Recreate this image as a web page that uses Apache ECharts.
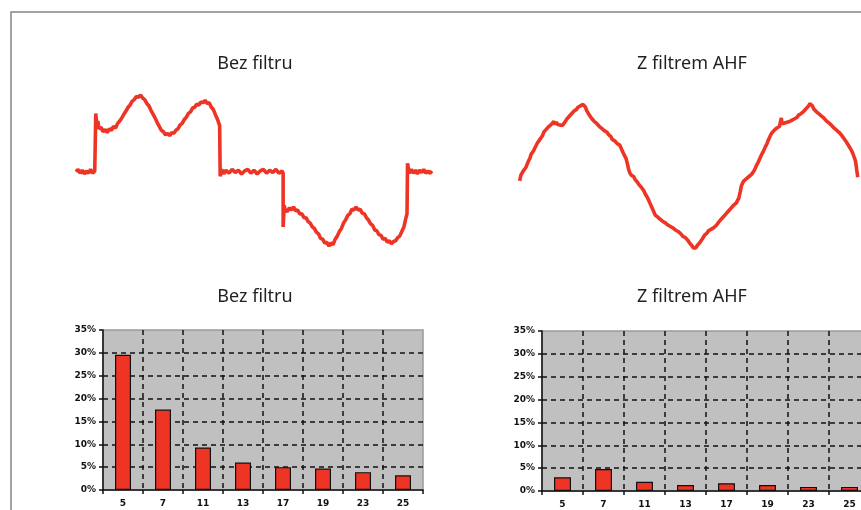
<!DOCTYPE html>
<html>
<head>
<meta charset="utf-8">
<script src="https://cdn.jsdelivr.net/npm/echarts@6/dist/echarts.min.js"></script>
<style>
  html, body { margin: 0; padding: 0; background: #fff; }
  #chart { width: 861px; height: 510px; }
</style>
</head>
<body>
<div id="chart"></div>
<script>
// titulky panelu
const titles = ['Bez filtru', 'Z filtrem AHF'];

// harmonicke (rad) a jejich podil v %
const harmonics = ['5', '7', '11', '13', '17', '19', '23', '25'];
const shareBez = [29.6, 17.6, 9.3, 6.0, 5.0, 4.7, 3.9, 3.2];
const shareAhf = [3.0, 4.8, 2.0, 1.3, 1.7, 1.3, 0.9, 0.9];

// prubeh proudu bez filtru: [uhel ve stupnich, proud v % spicky]
const waveBez = [
  [-19, 0], [-17, 3], [-15, -2], [-13, 2], [-11, -3], [-9, 1], [-7, -2], [-5, 3], [-3, -2], [-1, 1],
  [0, 2], [0, 76], [1, 62], [2, 66], [3, 56], [5, 58], [7, 52], [9, 55], [11, 51], [13, 56],
  [15, 54], [17, 59], [19, 57], [21, 63], [23, 66], [25, 70], [27, 75], [29, 79], [31, 84], [33, 87],
  [35, 92], [37, 94], [39, 98], [41, 97], [43, 100], [45, 96], [47, 94], [49, 89], [51, 86], [53, 80],
  [55, 75], [57, 70], [59, 64], [61, 59], [63, 54], [65, 52], [67, 48], [69, 50], [71, 47], [73, 51],
  [75, 50], [77, 54], [79, 56], [81, 61], [83, 63], [85, 68], [87, 71], [89, 76], [91, 78], [93, 83],
  [95, 84], [97, 88], [99, 87], [101, 91], [103, 90], [105, 93], [107, 89], [109, 90], [111, 84], [113, 81],
  [115, 74], [117, 68], [118, 64], [119, 60], [119.5, -6], [121, 3], [123, -3], [125, 2], [128, -2], [131, 3],
  [134, -1], [137, 2], [140, -3], [143, 1], [146, 3], [149, -2], [152, 2], [155, -3], [158, 1], [161, 3],
  [164, -2], [167, 2], [170, -1], [173, 3], [176, -2], [179, 1],
  [180, -2], [180, -72], [181, -44], [182, -50], [184, -52], [186, -47], [188, -50], [190, -46], [192, -51], [194, -50],
  [196, -55], [198, -55], [200, -60], [202, -60], [204, -65], [206, -67], [208, -72], [210, -74], [212, -79], [214, -81],
  [216, -87], [218, -88], [220, -93], [222, -92], [224, -97], [226, -93], [228, -95], [230, -88], [232, -84], [234, -78],
  [236, -74], [238, -67], [240, -63], [242, -57], [244, -55], [246, -49], [248, -50], [250, -46], [252, -50], [254, -49],
  [256, -54], [258, -55], [260, -60], [262, -63], [264, -68], [266, -70], [268, -76], [270, -77], [272, -82], [274, -83],
  [276, -88], [278, -87], [280, -92], [282, -90], [284, -94], [286, -91], [288, -90], [290, -86], [292, -84], [294, -78],
  [296, -72], [297, -66], [298, -60], [299, -55], [299.5, 11], [301, -2], [303, 3], [305, -2], [307, 2], [309, -3],
  [311, 2], [313, -1], [315, 3], [317, -2], [319, 1], [321, -2], [323, 1]
];

// prubeh proudu s filtrem AHF
const waveAhf = [
  [-7, -6], [-5, 2], [-3, 0], [-1, 8], [1, 6], [3, 13], [5, 15], [7, 22], [9, 25], [11, 31],
  [13, 30], [15, 36], [17, 40], [19, 42], [21, 47], [23, 46], [25, 52], [27, 54], [29, 57], [31, 62],
  [33, 62], [35, 66], [37, 68], [39, 70], [41, 69], [43, 73], [45, 74], [47, 77], [49, 73], [51, 76],
  [53, 73], [55, 75], [57, 72], [59, 74], [61, 72], [63, 74], [65, 77], [67, 80], [69, 82], [71, 84],
  [73, 86], [75, 88], [77, 89], [79, 92], [81, 93], [83, 94], [85, 97], [87, 96], [89, 99], [91, 98],
  [93, 101], [95, 99], [97, 97], [99, 92], [101, 90], [103, 86], [105, 84], [107, 81], [109, 82], [111, 77],
  [113, 78], [115, 74], [117, 74], [119, 70], [121, 71], [123, 67], [125, 68], [127, 64], [129, 63], [131, 62],
  [133, 59], [135, 58], [137, 56], [139, 52], [141, 54], [143, 50], [145, 48], [147, 46], [149, 45], [151, 44],
  [153, 40], [155, 38], [157, 32], [159, 30], [161, 25], [163, 18], [165, 10], [167, 5], [169, 2], [171, 2],
  [173, 0], [175, -4], [177, -6], [179, -8], [181, -11], [183, -13], [185, -15], [187, -17], [189, -20], [191, -24],
  [193, -27], [195, -30], [197, -34], [199, -38], [201, -42], [203, -46], [205, -50], [207, -54], [209, -56], [211, -57],
  [213, -59], [215, -60], [217, -61], [219, -63], [221, -63], [223, -65], [225, -66], [227, -68], [229, -68], [231, -70],
  [233, -71], [235, -72], [237, -74], [239, -75], [241, -76], [243, -77], [245, -79], [247, -80], [249, -82], [251, -84],
  [253, -85], [255, -86], [257, -88], [259, -90], [261, -93], [263, -95], [265, -97], [267, -100], [269, -99], [271, -100],
  [273, -97], [275, -96], [277, -93], [279, -91], [281, -88], [283, -86], [285, -82], [287, -80], [289, -79], [291, -76],
  [293, -76], [295, -74], [297, -72], [299, -72], [301, -70], [303, -69], [305, -67], [307, -64], [309, -62], [311, -60],
  [313, -58], [315, -56], [317, -54], [319, -52], [321, -50], [323, -48], [325, -46], [327, -44], [329, -42], [331, -40],
  [333, -38], [335, -37], [337, -35], [339, -30], [341, -22], [343, -13], [345, -9], [347, -6], [349, -8], [351, -3],
  [353, -2], [355, 0], [357, 1], [359, 3], [361, 4], [363, 8], [365, 12], [367, 16], [369, 19], [371, 23],
  [373, 27], [375, 31], [377, 34], [379, 38], [381, 42], [383, 45], [385, 50], [387, 54], [389, 58], [391, 61],
  [393, 62], [395, 65], [397, 66], [399, 68], [401, 68], [403, 70], [405, 72], [406, 82], [407, 74], [409, 74],
  [411, 75], [413, 74], [415, 76], [417, 75], [419, 77], [421, 77], [423, 79], [425, 80], [427, 81], [429, 83],
  [431, 83], [433, 86], [435, 87], [437, 88], [439, 90], [441, 91], [443, 93], [445, 95], [447, 97], [449, 99],
  [451, 102], [453, 100], [455, 99], [457, 95], [459, 94], [461, 91], [463, 90], [465, 88], [467, 86], [469, 85],
  [471, 83], [473, 82], [475, 80], [477, 78], [479, 77], [481, 75], [483, 74], [485, 72], [487, 71], [489, 68],
  [491, 67], [493, 65], [495, 64], [497, 62], [499, 60], [501, 58], [503, 56], [505, 53], [507, 51], [509, 48],
  [511, 45], [513, 42], [515, 39], [517, 36], [519, 32], [521, 27], [523, 22], [524, 16], [525, 9], [526, 3],
  [526.5, -1]
];

const red = '#ee3424';
const ink = '#111';
const titleStyle = { fontFamily: 'Noto Sans', fontSize: 18, fontWeight: 'normal', color: '#231f20' };
const tickFont = { fontFamily: 'DejaVu Sans', fontSize: 9, fontWeight: 'bold', color: ink };
const dash = { type: [5, 4], color: ink, width: 1.5 };

function hiddenAxis(grid, min, max) {
  return { gridIndex: grid, type: 'value', min: min, max: max, show: false };
}

function barX(grid) {
  return {
    gridIndex: grid, type: 'category', data: harmonics, boundaryGap: true,
    axisLine: { show: true, lineStyle: { color: ink, width: 1.5 } },
    axisTick: { show: true, interval: 0, length: 4, lineStyle: { color: ink, width: 1.5 } },
    axisLabel: Object.assign({ interval: 0, margin: 9 }, tickFont),
    splitLine: { show: true, interval: 0, showMinLine: false, showMaxLine: false, lineStyle: dash }
  };
}

function barY(grid) {
  return {
    gridIndex: grid, type: 'value', min: 0, max: 35, interval: 5,
    axisLine: { show: true, lineStyle: { color: ink, width: 1.5 } },
    axisTick: { show: true, length: 4, lineStyle: { color: ink, width: 1.5 } },
    axisLabel: Object.assign({ margin: 7, formatter: '{value}%' }, tickFont),
    splitLine: { show: true, showMinLine: false, showMaxLine: false, lineStyle: dash }
  };
}

const gridBar = { show: true, backgroundColor: '#c0c0c0', borderColor: '#9a9a9a', borderWidth: 1.5, outerBoundsMode: 'none' };

const chart = echarts.init(document.getElementById('chart'), null, { renderer: 'canvas' });

const option = {
  backgroundColor: '#fff',
  animation: false,
  title: [
    { text: titles[0], left: 255, top: 55, textAlign: 'center', padding: 0, textStyle: titleStyle },
    { text: titles[1], left: 692, top: 55, textAlign: 'center', padding: 0, textStyle: titleStyle },
    { text: titles[0], left: 255, top: 288, textAlign: 'center', padding: 0, textStyle: titleStyle },
    { text: titles[1], left: 692, top: 288, textAlign: 'center', padding: 0, textStyle: titleStyle }
  ],
  grid: [
    { left: 76, top: 95, width: 356, height: 153.4, outerBoundsMode: 'none' },
    { left: 519, top: 98, width: 339, height: 157, outerBoundsMode: 'none' },
    Object.assign({ left: 103, top: 330, width: 320, height: 160 }, gridBar),
    Object.assign({ left: 542, top: 331, width: 328, height: 160 }, gridBar)
  ],
  xAxis: [hiddenAxis(0, -19, 323), hiddenAxis(1, -8, 527), barX(2), barX(3)],
  yAxis: [hiddenAxis(0, -100, 100), hiddenAxis(1, -110, 110), barY(2), barY(3)],
  graphic: [{
    type: 'rect', silent: true, z: -1,
    shape: { x: 11, y: 12, width: 1000, height: 1000 },
    style: { fill: 'none', stroke: '#858585', lineWidth: 1.5 }
  }],
  series: [
    { type: 'line', xAxisIndex: 0, yAxisIndex: 0, data: waveBez, showSymbol: false,
      lineStyle: { color: red, width: 3.6 } },
    { type: 'line', xAxisIndex: 1, yAxisIndex: 1, data: waveAhf, showSymbol: false,
      lineStyle: { color: red, width: 3.6 } },
    { type: 'bar', xAxisIndex: 2, yAxisIndex: 2, data: shareBez, barWidth: 16,
      itemStyle: { color: red, borderColor: ink, borderWidth: 1.2 } },
    { type: 'bar', xAxisIndex: 3, yAxisIndex: 3, data: shareAhf, barWidth: 17,
      itemStyle: { color: red, borderColor: ink, borderWidth: 1.2 } }
  ]
};

chart.setOption(option);
</script>
</body>
</html>
